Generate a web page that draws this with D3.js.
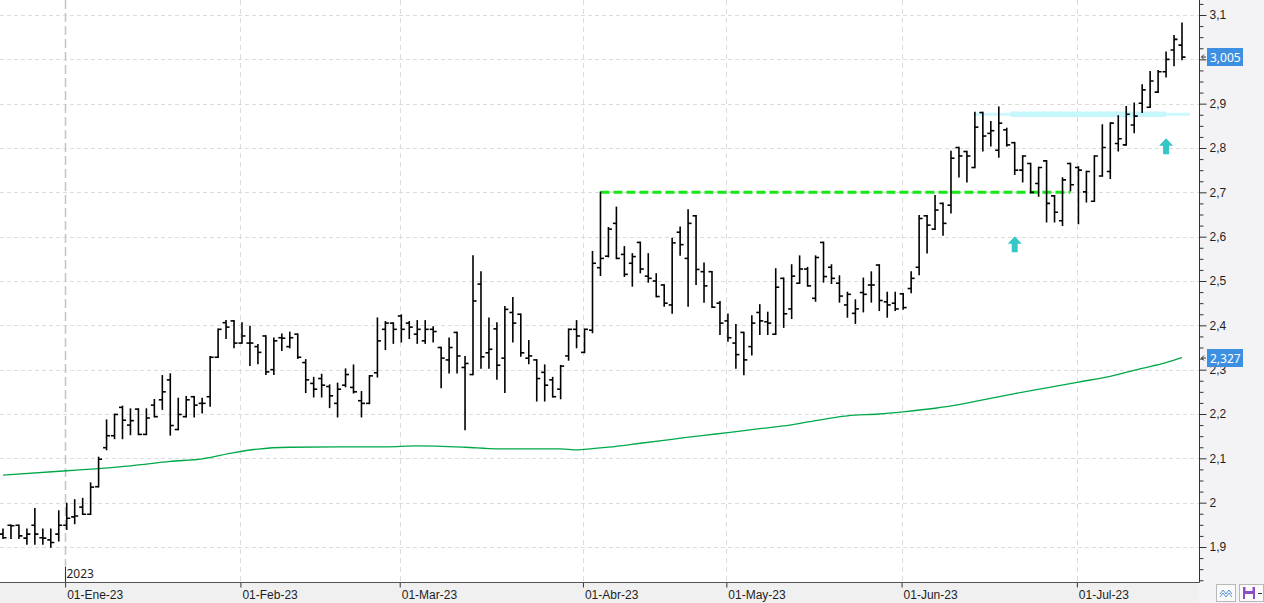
<!DOCTYPE html>
<html>
<head>
<meta charset="utf-8">
<script src="https://cdn.jsdelivr.net/npm/d3@7/dist/d3.min.js"></script>
<style>
  html, body { margin: 0; padding: 0; background: #fff; overflow: hidden; }
  svg { display: block; font-family: "Segoe UI", "Noto Sans", "Open Sans", sans-serif; }
</style>
</head>
<body>
<div id="chart"></div>
<script>
// --- data ---
const monthLabels = ["01-Ene-23", "01-Feb-23", "01-Mar-23", "01-Abr-23", "01-May-23", "01-Jun-23", "01-Jul-23"];
const monthStart = [8, 30, 50, 73, 91, 113, 135];   // bar index of first session of each month
const yearLabel = "2023";
const yearStart = 8;

// daily bars: [open, high, low, close]
const bars = [
  [1.929,1.940,1.920,1.921],[1.949,1.949,1.920,1.948],[1.949,1.949,1.920,1.925],[1.920,1.940,1.907,1.929],
  [1.949,1.986,1.907,1.929],[1.921,1.940,1.907,1.920],[1.916,1.940,1.900,1.910],[1.929,1.981,1.914,1.949],
  [1.949,1.998,1.940,1.965],[1.968,2.006,1.953,1.970],[1.990,2.009,1.974,1.974],[1.974,2.044,1.974,2.035],
  [2.036,2.102,2.036,2.098],[2.124,2.186,2.120,2.151],[2.151,2.199,2.145,2.199],[2.215,2.217,2.145,2.186],
  [2.175,2.211,2.154,2.185],[2.211,2.211,2.154,2.154],[2.154,2.211,2.154,2.191],[2.220,2.232,2.194,2.194],
  [2.232,2.286,2.211,2.250],[2.277,2.290,2.153,2.174],[2.165,2.235,2.165,2.199],[2.194,2.239,2.194,2.232],
  [2.239,2.239,2.194,2.220],[2.224,2.235,2.203,2.224],[2.239,2.329,2.218,2.328],[2.328,2.391,2.328,2.391],
  [2.406,2.410,2.371,2.396],[2.410,2.410,2.350,2.360],[2.360,2.405,2.360,2.376],[2.360,2.397,2.310,2.360],
  [2.352,2.356,2.314,2.339],[2.376,2.376,2.290,2.295],[2.300,2.371,2.290,2.365],[2.372,2.380,2.344,2.371],
  [2.352,2.384,2.350,2.372],[2.380,2.380,2.326,2.328],[2.316,2.322,2.249,2.277],[2.269,2.282,2.239,2.256],
  [2.280,2.289,2.239,2.265],[2.262,2.265,2.215,2.241],[2.224,2.269,2.194,2.256],[2.265,2.301,2.262,2.289],
  [2.260,2.310,2.248,2.250],[2.230,2.250,2.194,2.224],[2.224,2.286,2.224,2.286],[2.293,2.416,2.284,2.365],
  [2.391,2.408,2.346,2.405],[2.405,2.405,2.360,2.391],[2.421,2.423,2.363,2.391],[2.405,2.408,2.371,2.396],
  [2.380,2.410,2.360,2.391],[2.365,2.410,2.360,2.391],[2.391,2.396,2.363,2.386],[2.350,2.350,2.260,2.326],
  [2.322,2.371,2.293,2.350],[2.384,2.384,2.293,2.331],[2.305,2.329,2.165,2.314],[2.289,2.556,2.289,2.455],
  [2.493,2.520,2.304,2.329],[2.338,2.416,2.304,2.346],[2.392,2.405,2.279,2.310],[2.326,2.442,2.249,2.436],
  [2.429,2.462,2.363,2.405],[2.425,2.425,2.331,2.338],[2.326,2.365,2.314,2.331],[2.322,2.322,2.230,2.280],
  [2.294,2.310,2.230,2.265],[2.277,2.282,2.239,2.239],[2.256,2.309,2.235,2.308],[2.331,2.391,2.322,2.391],
  [2.391,2.410,2.350,2.376],[2.339,2.391,2.339,2.391],[2.389,2.566,2.384,2.540],[2.530,2.700,2.513,2.551],
  [2.556,2.620,2.555,2.617],[2.630,2.666,2.551,2.551],[2.560,2.577,2.511,2.515],[2.540,2.561,2.489,2.555],
  [2.587,2.587,2.519,2.527],[2.511,2.561,2.498,2.506],[2.500,2.516,2.465,2.465],[2.491,2.491,2.444,2.450],
  [2.446,2.596,2.428,2.586],[2.610,2.621,2.559,2.582],[2.551,2.660,2.444,2.630],[2.647,2.647,2.493,2.526],
  [2.521,2.540,2.453,2.489],[2.521,2.521,2.441,2.441],[2.450,2.453,2.380,2.405],[2.410,2.425,2.365,2.372],
  [2.360,2.401,2.304,2.334],[2.384,2.384,2.289,2.322],[2.352,2.421,2.334,2.405],[2.429,2.446,2.380,2.410],
  [2.408,2.429,2.380,2.405],[2.380,2.527,2.380,2.486],[2.506,2.506,2.396,2.426],[2.437,2.536,2.416,2.511],
  [2.495,2.556,2.495,2.527],[2.527,2.530,2.489,2.489],[2.461,2.556,2.455,2.553],[2.587,2.587,2.498,2.510],
  [2.531,2.536,2.495,2.506],[2.495,2.511,2.453,2.466],[2.446,2.474,2.419,2.470],[2.427,2.457,2.405,2.437],
  [2.474,2.506,2.431,2.470],[2.491,2.520,2.453,2.491],[2.536,2.536,2.434,2.456],[2.453,2.474,2.419,2.446],
  [2.450,2.474,2.434,2.437],[2.471,2.471,2.437,2.440],[2.483,2.520,2.474,2.506],[2.531,2.647,2.515,2.641],
  [2.647,2.647,2.564,2.626],[2.617,2.692,2.617,2.660],[2.675,2.675,2.604,2.630],[2.671,2.792,2.654,2.777],
  [2.801,2.801,2.735,2.782],[2.792,2.792,2.724,2.782],[2.756,2.880,2.756,2.847],[2.880,2.880,2.794,2.827],
  [2.833,2.859,2.805,2.839],[2.795,2.892,2.780,2.856],[2.841,2.844,2.805,2.807],[2.812,2.812,2.741,2.750],
  [2.750,2.782,2.724,2.782],[2.765,2.765,2.700,2.700],[2.720,2.756,2.692,2.756],[2.771,2.771,2.634,2.675],
  [2.692,2.692,2.634,2.655],[2.636,2.732,2.626,2.728],[2.765,2.765,2.704,2.717],[2.756,2.757,2.630,2.750],
  [2.701,2.747,2.679,2.747],[2.680,2.782,2.680,2.782],[2.737,2.852,2.737,2.801],[2.747,2.856,2.732,2.856],
  [2.810,2.872,2.794,2.821],[2.807,2.893,2.807,2.876],[2.852,2.901,2.835,2.872],[2.901,2.942,2.881,2.931],
  [2.892,2.972,2.892,2.951],[2.926,2.974,2.926,2.972],[2.972,3.016,2.961,3.000],[3.021,3.053,2.986,3.045],
  [3.032,3.081,3.000,3.005]
];

// long moving average, read at a handful of sessions: [bar index, value]
const maPoints = [
  [0,2.062],[8,2.072],[12,2.077],[16,2.083],[21,2.093],[25,2.099],[29,2.113],[32,2.121],[36,2.125],
  [42,2.126],[48,2.126],[52,2.128],[58,2.125],[62,2.1215],[70,2.1215],[72,2.119],[74,2.122],[77,2.127],
  [80,2.134],[84,2.143],[88,2.152],[91,2.158],[95,2.167],[98,2.173],[101,2.182],[106,2.196],[110,2.200],
  [113,2.205],[117,2.213],[120,2.221],[123,2.232],[127,2.246],[131,2.259],[135,2.272],[139,2.285],
  [143,2.303],[146,2.316],[148,2.327]
];

const breakoutLevel = { value: 2.70, from: 75, to: 134 };
const resistance = { value: 2.876, from: 121.8, to: 149, boldFrom: 126.5, boldTo: 146 };
const upArrows = [ { i: 127, value: 2.601 }, { i: 146, value: 2.822 } ];

const yMajor = d3.range(19, 32).map(d => d / 10);
const yMinor = d3.range(73, 126).filter(d => d % 4 !== 0).map(d => d / 40);

// --- chart ---
const width = 1264, height = 603;
const plotRight = 1199.5, plotBottom = 582.5;
const tickShift = -0.2;   // month separators sit just before the first session
const fmt = d => String(Math.round(d * 1000) / 1000).replace(".", ",");

const svg = d3.select("#chart").append("svg")
    .attr("width", width)
    .attr("height", height);

const x = d3.scaleLinear().domain([0, bars.length - 1]).range([3, 1182]);
const y = d3.scaleLinear().domain([1.9, 3.1]).range([547, 15]);
const mx = i => Math.round(x(i + tickShift)) + 0.5;

const lastClose = bars[bars.length - 1][3];
const lastMa = maPoints[maPoints.length - 1][1];

svg.append("rect").attr("width", width).attr("height", height).attr("fill", "#fff");
svg.append("rect").attr("x", plotRight).attr("width", width - plotRight).attr("height", height).attr("fill", "#f3f3f5");
svg.append("rect").attr("y", plotBottom).attr("width", plotRight).attr("height", height - plotBottom).attr("fill", "#f0f0f0");

svg.append("defs").append("clipPath").attr("id", "plot")
  .append("rect").attr("width", plotRight).attr("height", plotBottom);

// grid
const grid = svg.append("g");
grid.selectAll(".hg").data(yMajor).enter().append("line")
    .attr("x1", 0).attr("x2", plotRight)
    .attr("y1", d => Math.round(y(d)) + 0.5).attr("y2", d => Math.round(y(d)) + 0.5)
    .attr("stroke", "#dcdcdc").attr("stroke-dasharray", "4,3");
grid.selectAll(".vg").data(monthStart).enter().append("line")
    .attr("x1", d => mx(d)).attr("x2", d => mx(d))
    .attr("y1", 0).attr("y2", plotBottom)
    .attr("stroke", d => d === yearStart ? "#c4c4c4" : "#dcdcdc")
    .attr("stroke-width", d => d === yearStart ? 1.5 : 1)
    .attr("stroke-dasharray", d => d === yearStart ? "9,4" : "5,4");

const plot = svg.append("g").attr("clip-path", "url(#plot)");

// moving average
plot.append("path")
    .datum(maPoints)
    .attr("fill", "none")
    .attr("stroke", "#00a84a")
    .attr("stroke-width", 1.3)
    .attr("d", d3.line().x(d => x(d[0])).y(d => y(d[1])).curve(d3.curveMonotoneX));

// resistance (light cyan)
plot.append("line")
    .attr("x1", x(resistance.from)).attr("x2", x(resistance.to))
    .attr("y1", y(resistance.value)).attr("y2", y(resistance.value))
    .attr("stroke", "#cdf8fb").attr("stroke-width", 3);
plot.append("line")
    .attr("x1", x(resistance.boldFrom)).attr("x2", x(resistance.boldTo))
    .attr("y1", y(resistance.value)).attr("y2", y(resistance.value))
    .attr("stroke", "#c6f7fa").attr("stroke-width", 5.5);

// breakout level (green dashed)
plot.append("line")
    .attr("x1", x(breakoutLevel.from)).attr("x2", x(breakoutLevel.to))
    .attr("y1", y(breakoutLevel.value)).attr("y2", y(breakoutLevel.value))
    .attr("stroke", "#16e816").attr("stroke-width", 3).attr("stroke-dasharray", "9,4");

// ohlc bars
const ohlc = plot.append("g").attr("stroke", "#000").attr("stroke-width", 1.6);
const g = ohlc.selectAll("g").data(bars).enter().append("g");
g.append("line")
    .attr("x1", (d, i) => x(i)).attr("x2", (d, i) => x(i))
    .attr("y1", d => y(d[1]) - 0.8).attr("y2", d => y(d[2]) + 0.8);
g.append("line")
    .attr("x1", (d, i) => x(i) - 3.5).attr("x2", (d, i) => x(i))
    .attr("y1", d => y(d[0])).attr("y2", d => y(d[0]));
g.append("line")
    .attr("x1", (d, i) => x(i)).attr("x2", (d, i) => x(i) + 3.5)
    .attr("y1", d => y(d[3])).attr("y2", d => y(d[3]));

// up arrows
plot.selectAll(".arrow").data(upArrows).enter().append("path")
    .attr("fill", "#35c6c6")
    .attr("d", d => {
      const cx = x(d.i), ty = y(d.value);
      return `M${cx},${ty} L${cx + 7},${ty + 7.5} L${cx + 3},${ty + 7.5} L${cx + 3},${ty + 16}` +
             ` L${cx - 3},${ty + 16} L${cx - 3},${ty + 7.5} L${cx - 7},${ty + 7.5} Z`;
    });

// right axis (labels hidden where the value tags cover them)
const hiddenByTag = v => Math.abs(y(v) - y(lastClose)) < 6;
const yAxisG = svg.append("g").attr("transform", `translate(${plotRight},0)`);
yAxisG.append("g")
    .call(d3.axisRight(y).tickValues(yMinor).tickSize(4).tickFormat(""))
    .call(a => a.select(".domain").remove());
yAxisG.append("g")
    .call(d3.axisRight(y).tickValues(yMajor).tickSize(7).tickPadding(3)
      .tickFormat(d => hiddenByTag(d) ? "" : fmt(d)))
    .call(a => a.select(".domain").remove())
    .call(a => a.selectAll("text").attr("fill", "#1e1e1e").style("font-size", "12px"));
yAxisG.selectAll("line").attr("stroke", "#333");
svg.append("line")
    .attr("x1", plotRight).attr("x2", plotRight).attr("y1", 0).attr("y2", plotBottom)
    .attr("stroke", "#333");

// last value tags
const tags = svg.append("g").selectAll("g").data([lastClose, lastMa]).enter().append("g")
    .attr("transform", d => `translate(0,${Math.round(y(d))})`);
tags.append("rect")
    .attr("x", 1207).attr("y", -9).attr("width", 36).attr("height", 18)
    .attr("fill", "#3d8fe2");
tags.append("text")
    .attr("x", 1210).attr("y", 4.5)
    .attr("fill", "#fff").style("font-size", "12px")
    .text(d => fmt(d));
tags.append("path")
    .attr("d", "M1201.5,0 L1206,0 M1201.5,0 L1204,-2.5 M1201.5,0 L1204,2.5")
    .attr("stroke", "#333").attr("fill", "none");

// bottom axis
const xAxisG = svg.append("g").attr("transform", `translate(0,${plotBottom})`)
    .call(d3.axisBottom(d3.scaleLinear().domain(x.domain()).range(x.range().map(r => r)))
      .tickValues(monthStart.map(d => d + tickShift)).tickSize(5).tickPadding(3)
      .tickFormat((d, i) => monthLabels[i]))
    .call(a => a.select(".domain").remove());
xAxisG.selectAll("line").attr("stroke", "#333");
xAxisG.selectAll("text")
    .attr("text-anchor", "start").attr("x", 1.5)
    .attr("fill", "#1e1e1e").style("font-size", "12px");
svg.append("line")
    .attr("x1", 0).attr("x2", plotRight).attr("y1", plotBottom).attr("y2", plotBottom)
    .attr("stroke", "#555");

// year marker
svg.append("line")
    .attr("x1", mx(yearStart)).attr("x2", mx(yearStart))
    .attr("y1", 567).attr("y2", plotBottom)
    .attr("stroke", "#333");
svg.append("text")
    .attr("x", mx(yearStart) + 1).attr("y", 578)
    .attr("fill", "#1e1e1e").style("font-size", "12px")
    .text(yearLabel);

// corner buttons
const btn = svg.append("g");
btn.append("rect").attr("x", 1216.5).attr("y", 584.5).attr("width", 19).attr("height", 17)
    .attr("fill", "#fafafa").attr("stroke", "#b8b8b8");
btn.append("path").attr("d", "M1220,594 L1223,590 L1226,594 L1229,590 L1232,594 M1220,597 L1223,593 L1226,597 L1229,593 L1232,597")
    .attr("fill", "none").attr("stroke", "#5a8fd8").attr("stroke-width", 1);
btn.append("rect").attr("x", 1239.5).attr("y", 584.5).attr("width", 24).attr("height", 17)
    .attr("fill", "#fafafa").attr("stroke", "#b8b8b8");
btn.append("rect").attr("x", 1243).attr("y", 587).attr("width", 12).attr("height", 12).attr("fill", "#8a4fc8");
btn.append("rect").attr("x", 1245.5).attr("y", 587).attr("width", 7).attr("height", 4).attr("fill", "#fafafa");
btn.append("rect").attr("x", 1245).attr("y", 594).attr("width", 8).attr("height", 5).attr("fill", "#fafafa");
btn.append("line").attr("x1", 1258).attr("x2", 1262).attr("y1", 593.5).attr("y2", 593.5).attr("stroke", "#333");
</script>
</body>
</html>
